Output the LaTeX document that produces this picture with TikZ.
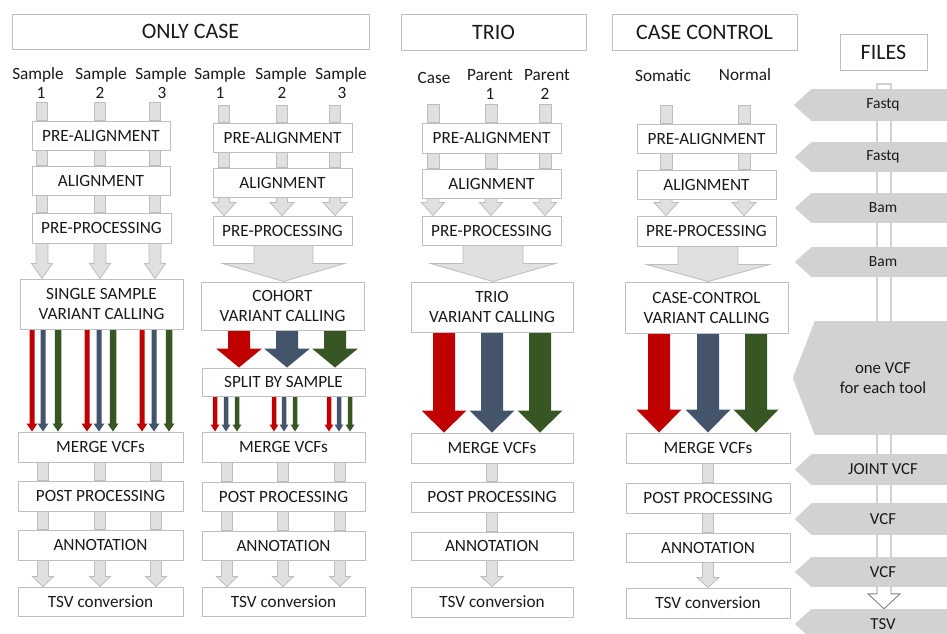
\documentclass[tikz,border=0pt]{standalone}
\usepackage{fontspec}
\setmainfont{Carlito}
\usetikzlibrary{calc}
\definecolor{boxline}{HTML}{BFBFBF}
\definecolor{ink}{HTML}{1A1A1A}
\definecolor{arrowfill}{HTML}{E0E0E0}
\definecolor{arrowline}{HTML}{BDBDBD}
\definecolor{tagfill}{HTML}{D2D2D2}
\definecolor{vred}{HTML}{C00000}
\definecolor{vblue}{HTML}{44546A}
\definecolor{vgreen}{HTML}{375623}
\definecolor{shaftline}{HTML}{808080}
\pgfdeclarelayer{back}
\pgfsetlayers{back,main}

% block arrow: style, x, from point, to point, shaft width, head width, head length
\newcommand\flowarrow[7]{%
  \path[#1] let \p1=(#3), \p2=(#4) in
    ({(#2-(#5)/2)*1pt},\y1) -- ({(#2-(#5)/2)*1pt},{\y2+(#7)*1pt})
    -- ({(#2-(#6)/2)*1pt},{\y2+(#7)*1pt}) -- ({(#2)*1pt},\y2)
    -- ({(#2+(#6)/2)*1pt},{\y2+(#7)*1pt}) -- ({(#2+(#5)/2)*1pt},{\y2+(#7)*1pt})
    -- ({(#2+(#5)/2)*1pt},\y1) -- cycle;}
% plain bar: style, x, from point, to point, width
\newcommand\flowbar[5]{%
  \path[#1] let \p1=(#3), \p2=(#4) in
    ({(#2-(#5)/2)*1pt},\y1) rectangle ({(#2+(#5)/2)*1pt},\y2);}
% stage box from its corners: [style] name, x1, y1, x2, y2, text
\newcommand\stagebox[7][stage]{%
  \node[#1, minimum width={(#5-#3)*1pt}, minimum height={(#6-#4)*1pt}]
    (#2) at ({(#3+#5)/2},{(#4+#6)/2}) {#7};}
% file tag: name, y top, y bottom, body left, tip depth, font size, text
\newcommand\filetag[7]{%
  \node[tagbody, font=\fontsize{#6}{20}\selectfont, minimum width={2*(883-#4)*1pt},
    minimum height={(#3-#2)*1pt}] (#1) at (883,{(#2+#3)/2}) {#7};
  \fill[tagfill] (#1.north west) -- ($(#1.west)+(-#5,0)$) -- (#1.south west) -- cycle;}

\tikzset{
  stage/.style={draw=boxline, fill=white, line width=1pt, text=ink,
    font=\fontsize{17.2}{20}\selectfont, align=center, inner sep=0pt},
  header/.style={stage, font=\fontsize{22}{24}\selectfont},
  lbl/.style={text=ink, font=\fontsize{17.2}{19}\selectfont, anchor=base, inner sep=0pt},
  gbar/.style={fill=arrowfill, draw=arrowline, line width=0.8pt},
  tagbody/.style={fill=tagfill, text=ink, align=center, inner sep=0pt},
  fshaft/.style={fill=white, draw=shaftline, line width=0.9pt},
}

\begin{document}
\begin{tikzpicture}[x=1pt,y=-1pt]
\useasboundingbox (0,0) rectangle (947,633);
\clip (0,0) rectangle (947,633);

% headers
\stagebox[header]{H_only}{12}{14}{369}{49}{ONLY CASE}
\stagebox[header]{H_trio}{401}{14}{586}{50}{TRIO}
\stagebox[header]{H_cc}{612}{14}{797}{50}{CASE CONTROL}
\stagebox[header]{H_files}{840}{34}{927}{70}{FILES}

% sample labels
\node[lbl] (A_s1) at (38,79.5) {Sample};  \node[lbl] (A_n1) at (41,98.5) {1};
\node[lbl] (A_s2) at (101,79.5) {Sample}; \node[lbl] (A_n2) at (100,98.5) {2};
\node[lbl] (A_s3) at (161,79.5) {Sample}; \node[lbl] (A_n3) at (162,98.5) {3};
\node[lbl] (B_s1) at (220,79.5) {Sample}; \node[lbl] (B_n1) at (220,98.5) {1};
\node[lbl] (B_s2) at (281,79.5) {Sample}; \node[lbl] (B_n2) at (282,98.5) {2};
\node[lbl] (B_s3) at (341,79.5) {Sample}; \node[lbl] (B_n3) at (342,98.5) {3};
\node[lbl] (C_s1) at (434,83) {Case};
\node[lbl] (C_s2) at (490,80) {Parent};   \node[lbl] (C_n2) at (490,99.5) {1};
\node[lbl] (C_s3) at (547,80) {Parent};   \node[lbl] (C_n3) at (545,99.5) {2};
\node[lbl] (D_s1) at (663,81.5) {Somatic};
\node[lbl] (D_s2) at (745,80) {Normal};

% ONLY CASE, single sample
\stagebox{A_pa}{32}{121}{170}{150}{PRE-ALIGNMENT}
\stagebox{A_al}{32}{166}{170}{195}{ALIGNMENT}
\stagebox{A_pp}{32}{213}{171}{243}{PRE-PROCESSING}
\stagebox{A_vc}{20}{279}{183}{329}{SINGLE SAMPLE\\VARIANT CALLING}
\stagebox{A_mg}{18}{432}{183}{462}{MERGE VCFs}
\stagebox{A_po}{18}{481}{183}{511}{POST PROCESSING}
\stagebox{A_an}{18}{530}{183}{560}{ANNOTATION}
\stagebox{A_ts}{18}{587}{183}{616}{TSV conversion}

% ONLY CASE, cohort
\stagebox{B_pa}{213}{123}{352}{152}{PRE-ALIGNMENT}
\stagebox{B_al}{213}{168}{352}{197}{ALIGNMENT}
\stagebox{B_pp}{213}{216}{352}{245}{PRE-PROCESSING}
\stagebox{B_vc}{201}{282}{364}{330}{COHORT\\VARIANT CALLING}
\stagebox{B_sp}{202}{368}{365}{396}{SPLIT BY SAMPLE}
\stagebox{B_mg}{202}{432}{365}{462}{MERGE VCFs}
\stagebox{B_po}{202}{482}{365}{511}{POST PROCESSING}
\stagebox{B_an}{202}{531}{365}{560}{ANNOTATION}
\stagebox{B_ts}{202}{587}{365}{616}{TSV conversion}

% TRIO
\stagebox{C_pa}{422}{123}{561}{153}{PRE-ALIGNMENT}
\stagebox{C_al}{422}{169}{561}{198}{ALIGNMENT}
\stagebox{C_pp}{422}{216}{561}{245}{PRE-PROCESSING}
\stagebox{C_vc}{411}{282}{573}{332}{TRIO\\VARIANT CALLING}
\stagebox{C_mg}{411}{433}{573}{463}{MERGE VCFs}
\stagebox{C_po}{411}{482}{573}{512}{POST PROCESSING}
\stagebox{C_an}{411}{532}{573}{560}{ANNOTATION}
\stagebox{C_ts}{411}{587}{573}{617}{TSV conversion}

% CASE CONTROL
\stagebox{D_pa}{637}{124}{776}{153}{PRE-ALIGNMENT}
\stagebox{D_al}{637}{170}{776}{199}{ALIGNMENT}
\stagebox{D_pp}{637}{216}{776}{246}{PRE-PROCESSING}
\stagebox{D_vc}{625}{282}{788}{333}{CASE-CONTROL\\VARIANT CALLING}
\stagebox{D_mg}{626}{433}{790}{463}{MERGE VCFs}
\stagebox{D_po}{626}{483}{790}{513}{POST PROCESSING}
\stagebox{D_an}{626}{533}{790}{562}{ANNOTATION}
\stagebox{D_ts}{626}{588}{790}{618}{TSV conversion}

% FILES column tags
\filetag{T_fq1}{89}{121}{812}{18}{15.5}{Fastq}
\filetag{T_fq2}{142}{172}{812}{17}{15.5}{Fastq}
\filetag{T_bam1}{193}{223}{812}{17}{15.5}{Bam}
\filetag{T_bam2}{247}{277}{812}{17}{15.5}{Bam}
\filetag{T_vcfs}{321}{435}{815}{22}{16.8}{one VCF\\for each tool}
\filetag{T_joint}{454}{485}{812}{17}{16.8}{JOINT VCF}
\filetag{T_vcf1}{503}{535}{812}{17}{16.8}{VCF}
\filetag{T_vcf2}{557}{587}{812}{17}{16.8}{VCF}
\filetag{T_tsv}{609}{639}{812}{17}{16.8}{TSV}
\coordinate (F_top) at (884,84);

\begin{pgfonlayer}{back}
  \fill[white] (0,0) rectangle (947,633);
  % single sample flow
  \foreach \cx/\lb/\dy in {42/A_n1/3.5,100/A_n2/3.5,155/A_n3/3.5}
    {\flowbar{gbar}{\cx}{$(\lb.south)+(0,\dy)$}{A_pa.north}{11}}
  \foreach \cx in {42,100,155} {
    \flowbar{gbar}{\cx}{A_pa.south}{A_al.north}{11}
    \flowbar{gbar}{\cx}{A_al.south}{A_pp.north}{11}
    \flowarrow{gbar}{\cx}{A_pp.south}{A_vc.north}{12}{21}{15}}
  \foreach \cx/\acol/\wd in {32/vred/5,43/vblue/5,58/vgreen/6.5,
      87/vred/5,99/vblue/5,113/vgreen/6.5,142/vred/5,154/vblue/5,169/vgreen/6.5}
    {\flowarrow{fill=\acol}{\cx}{A_vc.south}{A_mg.north}{\wd}{11}{8}}
  \foreach \cx in {43,100,156} {
    \flowbar{gbar}{\cx}{A_mg.south}{A_po.north}{11}
    \flowbar{gbar}{\cx}{A_po.south}{A_an.north}{11}
    \flowarrow{gbar}{\cx}{A_an.south}{A_ts.north}{11}{21}{10}}

  % cohort flow
  \foreach \cx/\lb in {224/B_n1,282/B_n2,335/B_n3}
    {\flowbar{gbar}{\cx}{$(\lb.south)+(0,6.5)$}{B_pa.north}{11}}
  \foreach \cx in {224,282,335} {
    \flowbar{gbar}{\cx}{B_pa.south}{B_al.north}{11}
    \flowarrow{gbar}{\cx}{B_al.south}{B_pp.north}{11}{24}{13}}
  \flowarrow{gbar}{283.5}{B_pp.south}{B_vc.north}{59}{122}{18}
  \foreach \cx/\acol in {239/vred,287/vblue,335/vgreen}
    {\flowarrow{fill=\acol}{\cx}{B_vc.south}{B_sp.north}{22}{46}{19}}
  \foreach \cx/\acol in {215/vred,226/vblue,237/vgreen,274/vred,284/vblue,295/vgreen,
      329/vred,339/vblue,350/vgreen}
    {\flowarrow{fill=\acol}{\cx}{B_sp.south}{B_mg.north}{4.5}{9}{7}}
  \foreach \cx in {227,283,340} {
    \flowbar{gbar}{\cx}{B_mg.south}{B_po.north}{11}
    \flowbar{gbar}{\cx}{B_po.south}{B_an.north}{11}
    \flowarrow{gbar}{\cx}{B_an.south}{B_ts.north}{11}{21}{10}}

  % trio flow
  \flowbar{gbar}{433}{$(C_s1.south)+(0,21)$}{C_pa.north}{12}
  \foreach \cx/\lb in {491/C_n2,545/C_n3}
    {\flowbar{gbar}{\cx}{$(\lb.south)+(0,4.5)$}{C_pa.north}{12}}
  \foreach \cx in {433,491,545} {
    \flowbar{gbar}{\cx}{C_pa.south}{C_al.north}{12}
    \flowarrow{gbar}{\cx}{C_al.south}{C_pp.north}{12}{23}{13}}
  \flowarrow{gbar}{493}{C_pp.south}{C_vc.north}{60}{125}{18}
  \foreach \cx/\acol in {444/vred,492/vblue,540/vgreen}
    {\flowarrow{fill=\acol}{\cx}{C_vc.south}{C_mg.north}{22}{45}{22}}
  \flowbar{gbar}{492}{C_mg.south}{C_po.north}{11}
  \flowbar{gbar}{492}{C_po.south}{C_an.north}{11}
  \flowarrow{gbar}{492}{C_an.south}{C_ts.north}{11}{22}{10}

  % case-control flow
  \flowbar{gbar}{666}{$(D_s1.south)+(0,23.5)$}{D_pa.north}{12}
  \flowbar{gbar}{744}{$(D_s2.south)+(0,25)$}{D_pa.north}{12}
  \foreach \cx in {666,744} {
    \flowbar{gbar}{\cx}{D_pa.south}{D_al.north}{12}
    \flowarrow{gbar}{\cx}{D_al.south}{D_pp.north}{12}{24}{13}}
  \flowarrow{gbar}{708}{D_pp.south}{D_vc.north}{60}{123}{17}
  \foreach \cx/\acol in {659/vred,708/vblue,756/vgreen}
    {\flowarrow{fill=\acol}{\cx}{D_vc.south}{D_mg.north}{22}{45}{23}}
  \flowbar{gbar}{708}{D_mg.south}{D_po.north}{11}
  \flowbar{gbar}{708}{D_po.south}{D_an.north}{11}
  \flowarrow{gbar}{708}{D_an.south}{D_ts.north}{11}{22}{10}

  % file timeline shaft
  \flowarrow{fshaft}{884}{F_top}{T_tsv.north}{14}{32}{15}
\end{pgfonlayer}
\end{tikzpicture}
\end{document}
